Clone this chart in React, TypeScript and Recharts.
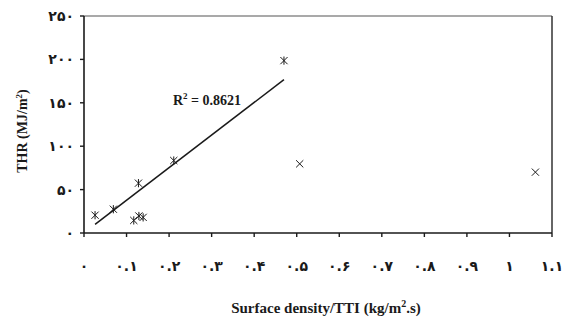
import { ScatterChart, Scatter, XAxis, YAxis, ReferenceLine, Label } from 'recharts'

const FA_DIGITS = ['۰', '۱', '۲', '۳', '۴', '۵', '۶', '۷', '۸', '۹']
const toFa = (s: string) => s.replace(/[0-9]/g, d => FA_DIGITS[+d])

const X_TICKS = [0, 0.1, 0.2, 0.3, 0.4, 0.5, 0.6, 0.7, 0.8, 0.9, 1, 1.1]
const Y_TICKS = [0, 50, 100, 150, 200, 250]

// points on/near the fit (star markers)
const starX = [0.026, 0.069, 0.128, 0.117, 0.129, 0.139, 0.211, 0.47]
const starY = [20.5, 27.4, 57.4, 14.5, 19.6, 18, 83.5, 198.6]
// outliers (plain x markers)
const crossX = [0.507, 1.061]
const crossY = [79.7, 70.1]
// fitted line endpoints
const trendX = [0.026, 0.47]
const trendY = [10, 176.7]

const stars = starX.map((x, i) => ({ x, y: starY[i] }))
const crosses = crossX.map((x, i) => ({ x, y: crossY[i] }))
const trend = trendX.map((x, i) => ({ x, y: trendY[i] }))

const SERIF = '"Liberation Serif", "Times New Roman", serif'
const DIGIT_FONT = '"DejaVu Sans", sans-serif'
const INK = '#1a1a1a'

const Cross = ({ cx, cy, star }: { cx?: number; cy?: number; star?: boolean }) => {
  if (cx == null || cy == null) return <g />
  const r = 3.6
  return (
    <g stroke={INK} strokeWidth={1}>
      <line x1={cx - r} y1={cy - r} x2={cx + r} y2={cy + r} />
      <line x1={cx - r} y1={cy + r} x2={cx + r} y2={cy - r} />
      {star && <line x1={cx} y1={cy - r - 0.5} x2={cx} y2={cy + r + 0.5} />}
    </g>
  )
}

const tickStyle = { fontSize: 14, fontWeight: 700, fill: INK, fontFamily: DIGIT_FONT }

export default function App() {
  return (
    <div style={{ position: 'absolute', left: 0, top: 0, width: 564, height: 320, background: '#fff' }}>
      <ScatterChart width={564} height={320} margin={{ top: 16, right: 12, bottom: 0, left: 0 }}>
        <XAxis type="number" dataKey="x" domain={[0, 1.1]} ticks={X_TICKS} height={87}
          tickFormatter={(v: number) => toFa(String(v))} tick={tickStyle}
          tickSize={4} tickMargin={24} axisLine={{ stroke: INK, strokeWidth: 1.6 }} tickLine={{ stroke: INK, strokeWidth: 1.4 }}
          allowDataOverflow>
          <Label content={() => (
            <text x={326} y={313} textAnchor="middle" fontFamily={SERIF} fontWeight={700} fontSize={15} fill={INK}>
              Surface density/TTI (kg/m<tspan dy={-6} fontSize={10}>2</tspan><tspan dy={6}>.s)</tspan>
            </text>
          )} />
        </XAxis>
        <YAxis type="number" dataKey="y" domain={[0, 250]} ticks={Y_TICKS} width={84}
          tickFormatter={(v: number) => toFa(String(v))} tick={tickStyle}
          tickSize={4} tickMargin={6} axisLine={{ stroke: INK, strokeWidth: 1.6 }} tickLine={{ stroke: INK, strokeWidth: 1.4 }}>
          <Label content={() => (
            <text x={27} y={131} transform="rotate(-90 27 131)" textAnchor="middle" fontFamily={SERIF} fontWeight={700} fontSize={14} fill={INK}>
              THR (MJ/m<tspan dy={-5} fontSize={9}>2</tspan><tspan dy={5}>)</tspan>
            </text>
          )} />
        </YAxis>
        <ReferenceLine y={250} stroke="#8c8c8c" strokeWidth={1.5} />
        <ReferenceLine x={1.1} stroke="#333" strokeWidth={1.5} />
        <Scatter data={trend} line={{ stroke: INK, strokeWidth: 1.5 }} shape={() => <g />} isAnimationActive={false} />
        <Scatter data={stars} shape={(p: any) => <Cross cx={p.cx} cy={p.cy} star />} isAnimationActive={false} />
        <Scatter data={crosses} shape={(p: any) => <Cross cx={p.cx} cy={p.cy} />} isAnimationActive={false} />
        <text x={207} y={105} textAnchor="middle" fontFamily={SERIF} fontWeight={700} fontSize={14} fill={INK}>
          R<tspan dy={-6} fontSize={9}>2</tspan><tspan dy={6}> = 0.8621</tspan>
        </text>
      </ScatterChart>
    </div>
  )
}
